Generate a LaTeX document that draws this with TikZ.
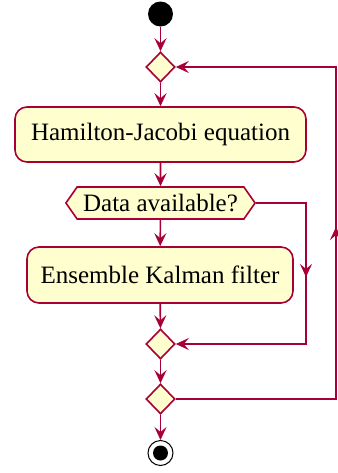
\documentclass[tikz,border=0pt]{standalone}
\usepackage{fontspec}
\setmainfont{Liberation Serif}
\usetikzlibrary{shapes.geometric,shapes.symbols,arrows.meta}

\definecolor{umlline}{HTML}{A80036}
\definecolor{umlfill}{HTML}{FEFECE}

\begin{document}
\begin{tikzpicture}[x=0.5pt,y=-0.5pt,
		font=\fontsize{12.5}{15}\selectfont,
		flow/.style={draw=umlline,line width=0.8pt,-{Stealth[length=6.5pt,width=6pt,inset=2.5pt]}},
		actnode/.style={rectangle,rounded corners=6pt,draw=umlline,fill=umlfill,line width=0.8pt,inner sep=0pt},
		testnode/.style={signal,signal to=west and east,signal pointer angle=110,draw=umlline,fill=umlfill,line width=0.8pt,inner xsep=3pt,inner ysep=0pt,minimum height=16pt},
		mergenode/.style={diamond,draw=umlline,fill=umlfill,line width=0.8pt,inner sep=0pt,minimum width=14.5pt,minimum height=15pt},
		startnode/.style={circle,fill=black,inner sep=0pt,minimum size=12.5pt},
		endnode/.style={circle,draw=black,fill=white,line width=0.5pt,inner sep=0pt,minimum size=12.5pt,
			path picture={\fill[black] (path picture bounding box.center) circle (3.75pt);}}]
			\useasboundingbox (0,0) rectangle (338,473);
			\clip (0,0) rectangle (338,473);

			\node[startnode]												(start)	at (160.5,14)	{};
			\node[mergenode]												(m1)	at (160.5,67)	{};
			\node[actnode,minimum width=145.5pt,minimum height=27.5pt]		(hj)	at (160.5,134.5)	{Hamilton-Jacobi equation};
			\node[testnode]													(data)	at (160.5,203)	{Data available?};
			\node[actnode,minimum width=133pt,minimum height=28pt]			(ekf)	at (160,275)	{Ensemble Kalman filter};
			\node[mergenode]												(m2)	at (160.5,344)	{};
			\node[mergenode]												(m3)	at (160.5,399)	{};
			\node[endnode]													(stop)	at (160.5,453)	{};

			\coordinate (br) at (306,203);
			\coordinate (bb) at (306,344);
			\coordinate (bm) at (306,277);
			\coordinate (lb) at (336,399);
			\coordinate (lt) at (336,67);
			\coordinate (lm) at (336,227);

			\draw[flow] (start) -- (m1);
			\draw[flow] (m1) -- (hj);
			\draw[flow] (hj) -- (data);
			\draw[flow] (data) -- (ekf);
			\draw[flow] (ekf) -- (m2);
			\draw[flow] (m2) -- (m3);
			\draw[flow] (m3) -- (stop);

			% no data: skip the filter
			\draw[flow] (data.east) -- (br) -- (bb) -- (m2.east);
			\draw[flow] (br) -- (bm);

			% back to the top for the next step
			\draw[flow] (m3.east) -- (lb) -- (lt) -- (m1.east);
			\draw[flow] (lb) -- (lm);
		\end{tikzpicture}
\end{document}
